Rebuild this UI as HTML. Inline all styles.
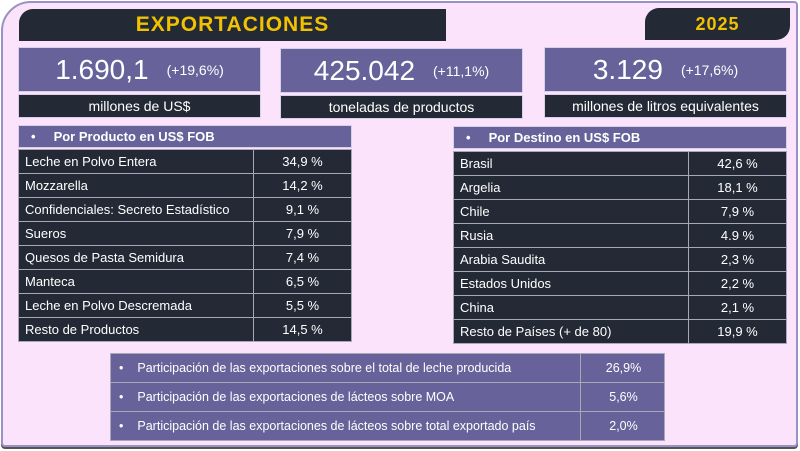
<!DOCTYPE html>
<html><head><meta charset="utf-8"><style>
*{box-sizing:border-box;margin:0;padding:0}
body{width:800px;height:451px;background:#fff;font-family:"Liberation Sans",sans-serif;position:relative;overflow:hidden}
.abs{position:absolute}
#frame{left:1px;top:1px;width:797px;height:446px;background:#fbe4fb;border:2px solid #9a92c4;border-radius:30px 4px 4px 4px;box-shadow:0 2px 0 #555}
.dark{background:#232a35;color:#fff}
.pur{background:#67639a;color:#fff}
.title{color:#f2c200;font-weight:bold;font-size:21px;letter-spacing:1px;display:flex;align-items:center;justify-content:center}
.kv{display:flex;align-items:center;justify-content:center;border:1px solid #d8d0e8}
.kv b{font-weight:normal;font-size:28px}
.kv span{font-size:14px;margin-left:18px}
.kl{display:flex;align-items:center;justify-content:center;font-size:14px;border:1px solid #d8d0e8}
table{position:absolute;border-collapse:collapse;font-size:13px}
td{border:1px solid #a8a8b8;height:24px;padding:0 6px}
td.v{text-align:center}
.hdr{font-size:13px;font-weight:bold;display:flex;align-items:center;padding-left:12px;border:1px solid #d8d0e8}
.hdr i{font-style:normal;margin-right:18px}
.bt td{height:29px;padding-left:8px}
</style></head><body>
<div id="frame" class="abs"></div>
<div class="abs dark title" style="left:19px;top:9px;width:427px;height:32px;border-radius:14px 0 0 0">EXPORTACIONES</div>
<div class="abs dark title" style="left:645px;top:8px;width:145px;height:32px;border-radius:14px 0 14px 0;font-size:18px">2025</div>

<div class="abs pur kv" style="left:18px;top:47px;width:243px;height:45px"><b>1.690,1</b><span>(+19,6%)</span></div>
<div class="abs dark kl" style="left:18px;top:94px;width:243px;height:24px">millones de US$</div>
<div class="abs pur kv" style="left:280px;top:48px;width:243px;height:45px"><b>425.042</b><span>(+11,1%)</span></div>
<div class="abs dark kl" style="left:280px;top:95px;width:243px;height:24px">toneladas de productos</div>
<div class="abs pur kv" style="left:544px;top:47px;width:243px;height:45px"><b>3.129</b><span>(+17,6%)</span></div>
<div class="abs dark kl" style="left:544px;top:94px;width:243px;height:24px">millones de litros equivalentes</div>

<div class="abs pur hdr" style="left:18px;top:125px;width:334px;height:23px"><i>•</i>Por Producto en US$ FOB</div>
<table class="dark" style="left:18px;top:149px;width:334px">
<tr><td style="width:235px">Leche en Polvo Entera</td><td class="v">34,9 %</td></tr>
<tr><td>Mozzarella</td><td class="v">14,2 %</td></tr>
<tr><td>Confidenciales: Secreto Estadístico</td><td class="v">9,1 %</td></tr>
<tr><td>Sueros</td><td class="v">7,9 %</td></tr>
<tr><td>Quesos de Pasta Semidura</td><td class="v">7,4 %</td></tr>
<tr><td>Manteca</td><td class="v">6,5 %</td></tr>
<tr><td>Leche en Polvo Descremada</td><td class="v">5,5 %</td></tr>
<tr><td>Resto de Productos</td><td class="v">14,5 %</td></tr>
</table>

<div class="abs pur hdr" style="left:453px;top:126px;width:334px;height:23px"><i>•</i>Por Destino en US$ FOB</div>
<table class="dark" style="left:453px;top:151px;width:334px">
<tr><td style="width:235px">Brasil</td><td class="v">42,6 %</td></tr>
<tr><td>Argelia</td><td class="v">18,1 %</td></tr>
<tr><td>Chile</td><td class="v">7,9 %</td></tr>
<tr><td>Rusia</td><td class="v">4.9 %</td></tr>
<tr><td>Arabia Saudita</td><td class="v">2,3 %</td></tr>
<tr><td>Estados Unidos</td><td class="v">2,2 %</td></tr>
<tr><td>China</td><td class="v">2,1 %</td></tr>
<tr><td>Resto de Países (+ de 80)</td><td class="v">19,9 %</td></tr>
</table>

<table class="pur bt" style="left:110px;top:353px;width:555px;font-size:12.5px">
<tr><td style="width:470px"><span style="margin-right:14px">•</span>Participación de las exportaciones sobre el total de leche producida</td><td class="v">26,9%</td></tr>
<tr><td><span style="margin-right:14px">•</span>Participación de las exportaciones de lácteos sobre MOA</td><td class="v">5,6%</td></tr>
<tr><td><span style="margin-right:14px">•</span>Participación de las exportaciones de lácteos sobre total exportado país</td><td class="v">2,0%</td></tr>
</table>
</body></html>
